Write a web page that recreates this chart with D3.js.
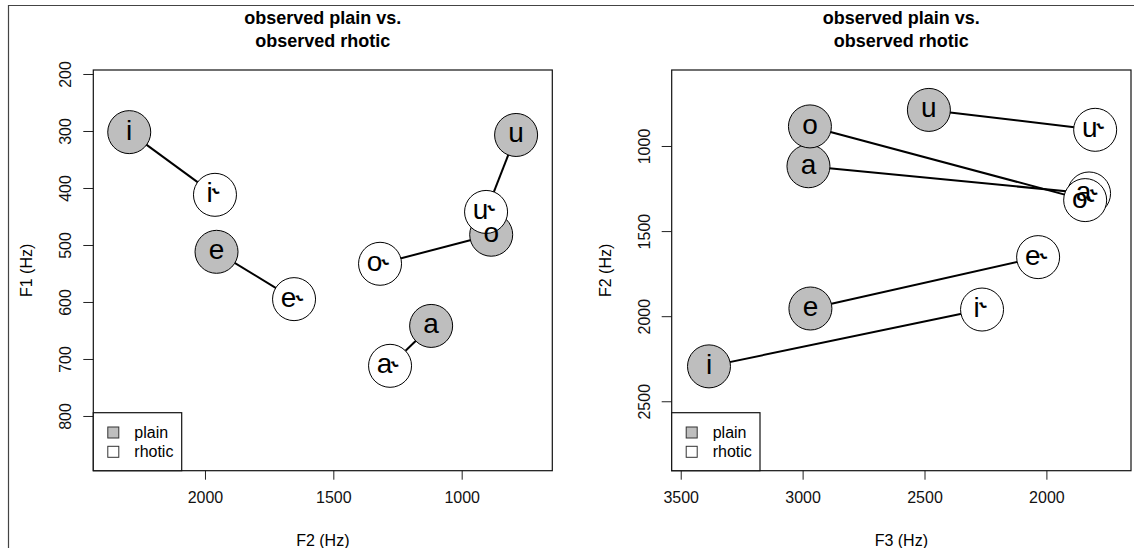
<!DOCTYPE html>
<html>
<head>
    <script src="https://cdnjs.cloudflare.com/ajax/libs/d3/7.8.5/d3.min.js"></script>
    <style>
        body { margin: 0; background: #fff; }
        svg { display: block; font-family: "Liberation Sans", Arial, Helvetica, sans-serif; }
    </style>
</head>
<body>
<script>
// vowel data (Hz)
const vowels = ["i", "e", "a", "o", "u"];
const plainF1 = [302, 512, 642, 482, 307];
const plainF2 = [2295, 1955, 1119, 885, 788];
const plainF3 = [3384, 2968, 2976, 2970, 2482];
const rhoticF1 = [412, 595, 712, 533, 442];
const rhoticF2 = [1961, 1653, 1279, 1318, 905];
const rhoticF3 = [2264, 2034, 1825, 1841, 1800];

const leftXTicks = [2000, 1500, 1000];
const leftYTicks = [200, 300, 400, 500, 600, 700, 800];
const rightXTicks = [3500, 3000, 2500, 2000];
const rightYTicks = [1000, 1500, 2000, 2500];
const legendLabels = ["plain", "rhotic"];

const width = 1134, height = 548;
const plainFill = "#bebebe";
const radius = 21.5;

const svg = d3.select("body").append("svg")
    .attr("width", width)
    .attr("height", height);

// outer frame (top and left edges only are in view)
svg.append("line").attr("x1", 8).attr("x2", width).attr("y1", 5.5).attr("y2", 5.5)
    .attr("stroke", "#444").attr("stroke-width", 1.2);
svg.append("line").attr("x1", 8.5).attr("x2", 8.5).attr("y1", 5).attr("y2", height)
    .attr("stroke", "#444").attr("stroke-width", 1.2);

function panel(opts) {
    const x = d3.scaleLinear().domain(opts.xDomain).range([opts.left, opts.right]);
    const y = d3.scaleLinear().domain(opts.yDomain).range([opts.top, opts.bottom]);
    const g = svg.append("g");
    const cx = (opts.left + opts.right) / 2;

    // title
    const title = g.append("text")
        .attr("text-anchor", "middle")
        .attr("font-size", 18)
        .attr("font-weight", "bold");
    title.append("tspan").attr("x", cx).attr("y", 24).text("observed plain vs.");
    title.append("tspan").attr("x", cx).attr("y", 47).text("observed rhotic");

    // axes
    const xAxis = g.append("g")
        .attr("transform", `translate(0,${opts.bottom})`)
        .call(d3.axisBottom(x).tickValues(opts.xTicks).tickSize(9).tickPadding(12).tickFormat(d3.format("d")));
    const yAxis = g.append("g")
        .attr("transform", `translate(${opts.left},0)`)
        .call(d3.axisLeft(y).tickValues(opts.yTicks).tickSize(10).tickFormat(d3.format("d")));
    [xAxis, yAxis].forEach(a => {
        a.select(".domain").remove();
        a.selectAll("line").attr("stroke", "#222");
        a.selectAll("text").attr("font-size", 16).attr("fill", "#111")
            .attr("font-family", "Liberation Sans, Arial, sans-serif");
    });
    yAxis.selectAll(".tick text")
        .attr("x", null).attr("dy", null)
        .attr("text-anchor", "middle")
        .attr("transform", "translate(-28,0) rotate(-90)")
        .attr("y", 6);

    // axis titles
    g.append("text")
        .attr("x", cx).attr("y", 546)
        .attr("text-anchor", "middle").attr("font-size", 16)
        .text(opts.xLabel);
    g.append("text")
        .attr("transform", `translate(${opts.left - 61},${(opts.top + opts.bottom) / 2}) rotate(-90)`)
        .attr("text-anchor", "middle").attr("font-size", 16)
        .text(opts.yLabel);

    const pts = vowels.map((v, i) => ({
        v,
        px: x(opts.px[i]), py: y(opts.py[i]),
        rx: x(opts.rx[i]), ry: y(opts.ry[i])
    }));

    // connecting segments
    g.selectAll(".seg").data(pts).join("line")
        .attr("x1", d => d.px).attr("y1", d => d.py)
        .attr("x2", d => d.rx).attr("y2", d => d.ry)
        .attr("stroke", "#000").attr("stroke-width", 2);

    g.selectAll(".pc").data(pts).join("circle")
        .attr("cx", d => d.px).attr("cy", d => d.py).attr("r", radius)
        .attr("fill", plainFill).attr("stroke", "#000").attr("stroke-width", 1);
    g.selectAll(".rc").data(pts).join("circle")
        .attr("cx", d => d.rx).attr("cy", d => d.ry).attr("r", radius)
        .attr("fill", "#fff").attr("stroke", "#000").attr("stroke-width", 1);

    g.selectAll(".pl").data(pts).join("text")
        .attr("x", d => d.px).attr("y", d => d.py + 7.5)
        .attr("text-anchor", "middle").attr("font-size", 28)
        .text(d => d.v);
    const rl = g.selectAll(".rl").data(pts).join("text")
        .attr("x", d => d.rx).attr("y", d => d.ry + 7.5)
        .attr("text-anchor", "middle").attr("font-size", 28);
    rl.append("tspan").text(d => d.v);
    // rhotic hook, just after the vowel
    rl.append("tspan").attr("dx", 1.5).attr("dy", 1).text("\u02DE");

    // plot box
    g.append("rect")
        .attr("x", opts.left).attr("y", opts.top)
        .attr("width", opts.right - opts.left).attr("height", opts.bottom - opts.top)
        .attr("fill", "none").attr("stroke", "#111").attr("stroke-width", 1.2);

    // legend
    const lg = g.append("g");
    lg.append("rect")
        .attr("x", opts.left).attr("y", 412.7)
        .attr("width", opts.legendW).attr("height", opts.bottom - 412.7)
        .attr("fill", "#fff").attr("stroke", "#111").attr("stroke-width", 1.2);
    legendLabels.forEach((lab, i) => {
        const ly = 432.5 + i * 19.3;
        lg.append("rect")
            .attr("x", opts.left + 14.5).attr("y", ly - 5.5)
            .attr("width", 11).attr("height", 11)
            .attr("fill", i === 0 ? plainFill : "#fff")
            .attr("stroke", "#333").attr("stroke-width", 1);
        lg.append("text")
            .attr("x", opts.left + 41).attr("y", ly + 5.5)
            .attr("font-size", 16)
            .text(lab);
    });
}

panel({
    left: 93.3, right: 552.3, top: 70, bottom: 470.7,
    xDomain: [2435, 647], yDomain: [193, 896],
    xTicks: leftXTicks, yTicks: leftYTicks,
    xLabel: "F2 (Hz)", yLabel: "F1 (Hz)",
    px: plainF2, py: plainF1, rx: rhoticF2, ry: rhoticF1,
    legendW: 88.4
});

panel({
    left: 671.7, right: 1131, top: 70, bottom: 470.7,
    xDomain: [3537, 1653], yDomain: [553.5, 2908],
    xTicks: rightXTicks, yTicks: rightYTicks,
    xLabel: "F3 (Hz)", yLabel: "F2 (Hz)",
    px: plainF3, py: plainF2, rx: rhoticF3, ry: rhoticF2,
    legendW: 88.3
});
</script>
</body>
</html>
